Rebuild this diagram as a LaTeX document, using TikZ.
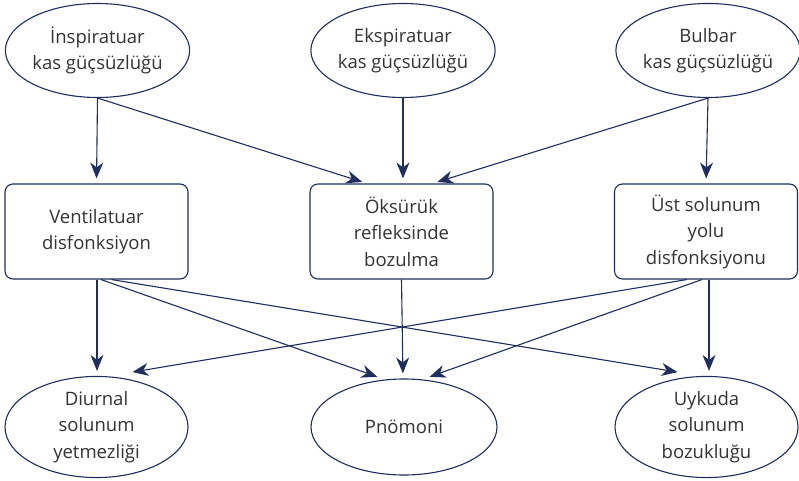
\documentclass[tikz,border=0pt]{standalone}
\usepackage{fontspec}
\setmainfont{Open Sans}
\usetikzlibrary{shapes.geometric,arrows.meta}
\definecolor{navy}{HTML}{1F2E5C}
\definecolor{txt}{HTML}{333333}
\tikzset{navytip/.tip={Stealth[length=16pt,width=13pt,inset=5pt,line width=0pt]}}
\begin{document}
\begin{tikzpicture}[x=1pt,y=-1pt,
  every node/.style={font=\fontsize{18.5}{26.5}\selectfont, text=txt, align=center},
  oval/.style={ellipse, draw=navy, line width=1.1pt, minimum width=184pt, minimum height=94pt, inner sep=0pt},
  boxnode/.style={rectangle, rounded corners=8pt, draw=navy, line width=1.1pt, minimum width=183pt, minimum height=95pt, inner sep=0pt},
  arr/.style={draw=navy, line width=1.1pt, -navytip, shorten >=5pt}]
\useasboundingbox (0,0) rectangle (799,481);
% top ellipses
\node[oval] (e1) at (97.5,50.5) {İnspiratuar\\kas güçsüzlüğü};
\node[oval] (e2) at (403,50.5) {Ekspiratuar\\kas güçsüzlüğü};
\node[oval] (e3) at (708,50.5) {Bulbar\\kas güçsüzlüğü};
% boxes
\node[boxnode] (b1) at (96.5,231.5) {Ventilatuar\\disfonksiyon};
\node[boxnode] (b2) at (401.5,231.5) {Öksürük\\refleksinde\\bozulma};
\node[boxnode] (b3) at (706,231.5) {Üst solunum\\yolu\\disfonksiyonu};
% bottom ellipses
\node[oval, minimum width=183pt, minimum height=98pt] (o1) at (96.5,427) {Diurnal\\solunum\\yetmezliği};
\node[oval, minimum width=186pt, minimum height=96pt] (o2) at (404,427) {Pnömoni};
\node[oval, minimum width=183pt, minimum height=98pt] (o3) at (706.5,427) {Uykuda\\solunum\\bozukluğu};
% connection points
\coordinate (b2l) at ([xshift=-34.5pt]b2.north);
\coordinate (b2m) at ([xshift=1.5pt]b2.north);
\coordinate (b2r) at ([xshift=31pt]b2.north);
\coordinate (b1a) at ([xshift=0.5pt]b1.south);
\coordinate (b1b) at ([xshift=4.5pt]b1.south);
\coordinate (b1c) at ([xshift=15pt]b1.south);
\coordinate (b3a) at ([xshift=-19pt]b3.south);
\coordinate (b3b) at ([xshift=-4pt]b3.south);
\coordinate (b3c) at ([xshift=3pt]b3.south);
\coordinate (o1a) at ([xshift=0.5pt]o1.north);
\coordinate (o1b) at ([xshift=31pt,yshift=3pt]o1.north);
\coordinate (o2a) at ([xshift=-22pt]o2.north);
\coordinate (o2b) at ([xshift=-1pt]o2.north);
\coordinate (o2c) at ([xshift=21pt]o2.north);
\coordinate (o3a) at ([xshift=-24pt,yshift=3pt]o3.north);
\coordinate (o3b) at ([xshift=2.5pt]o3.north);
% top arrows
\draw[arr] (e1.south) -- (b1.north);
\draw[arr] (e1.south) -- (b2l);
\draw[arr] (e2.south) -- (b2m);
\draw[arr] (e3.south) -- (b2r);
\draw[arr] (e3.south) -- (b3.north);
% bottom arrows
\draw[arr] (b1a) -- (o1a);
\draw[arr] (b1b) -- (o2a);
\draw[arr] (b1c) -- (o3a);
\draw[arr] (b2.south) -- (o2b);
\draw[arr] (b3a) -- (o1b);
\draw[arr] (b3b) -- (o2c);
\draw[arr] (b3c) -- (o3b);
\end{tikzpicture}
\end{document}
